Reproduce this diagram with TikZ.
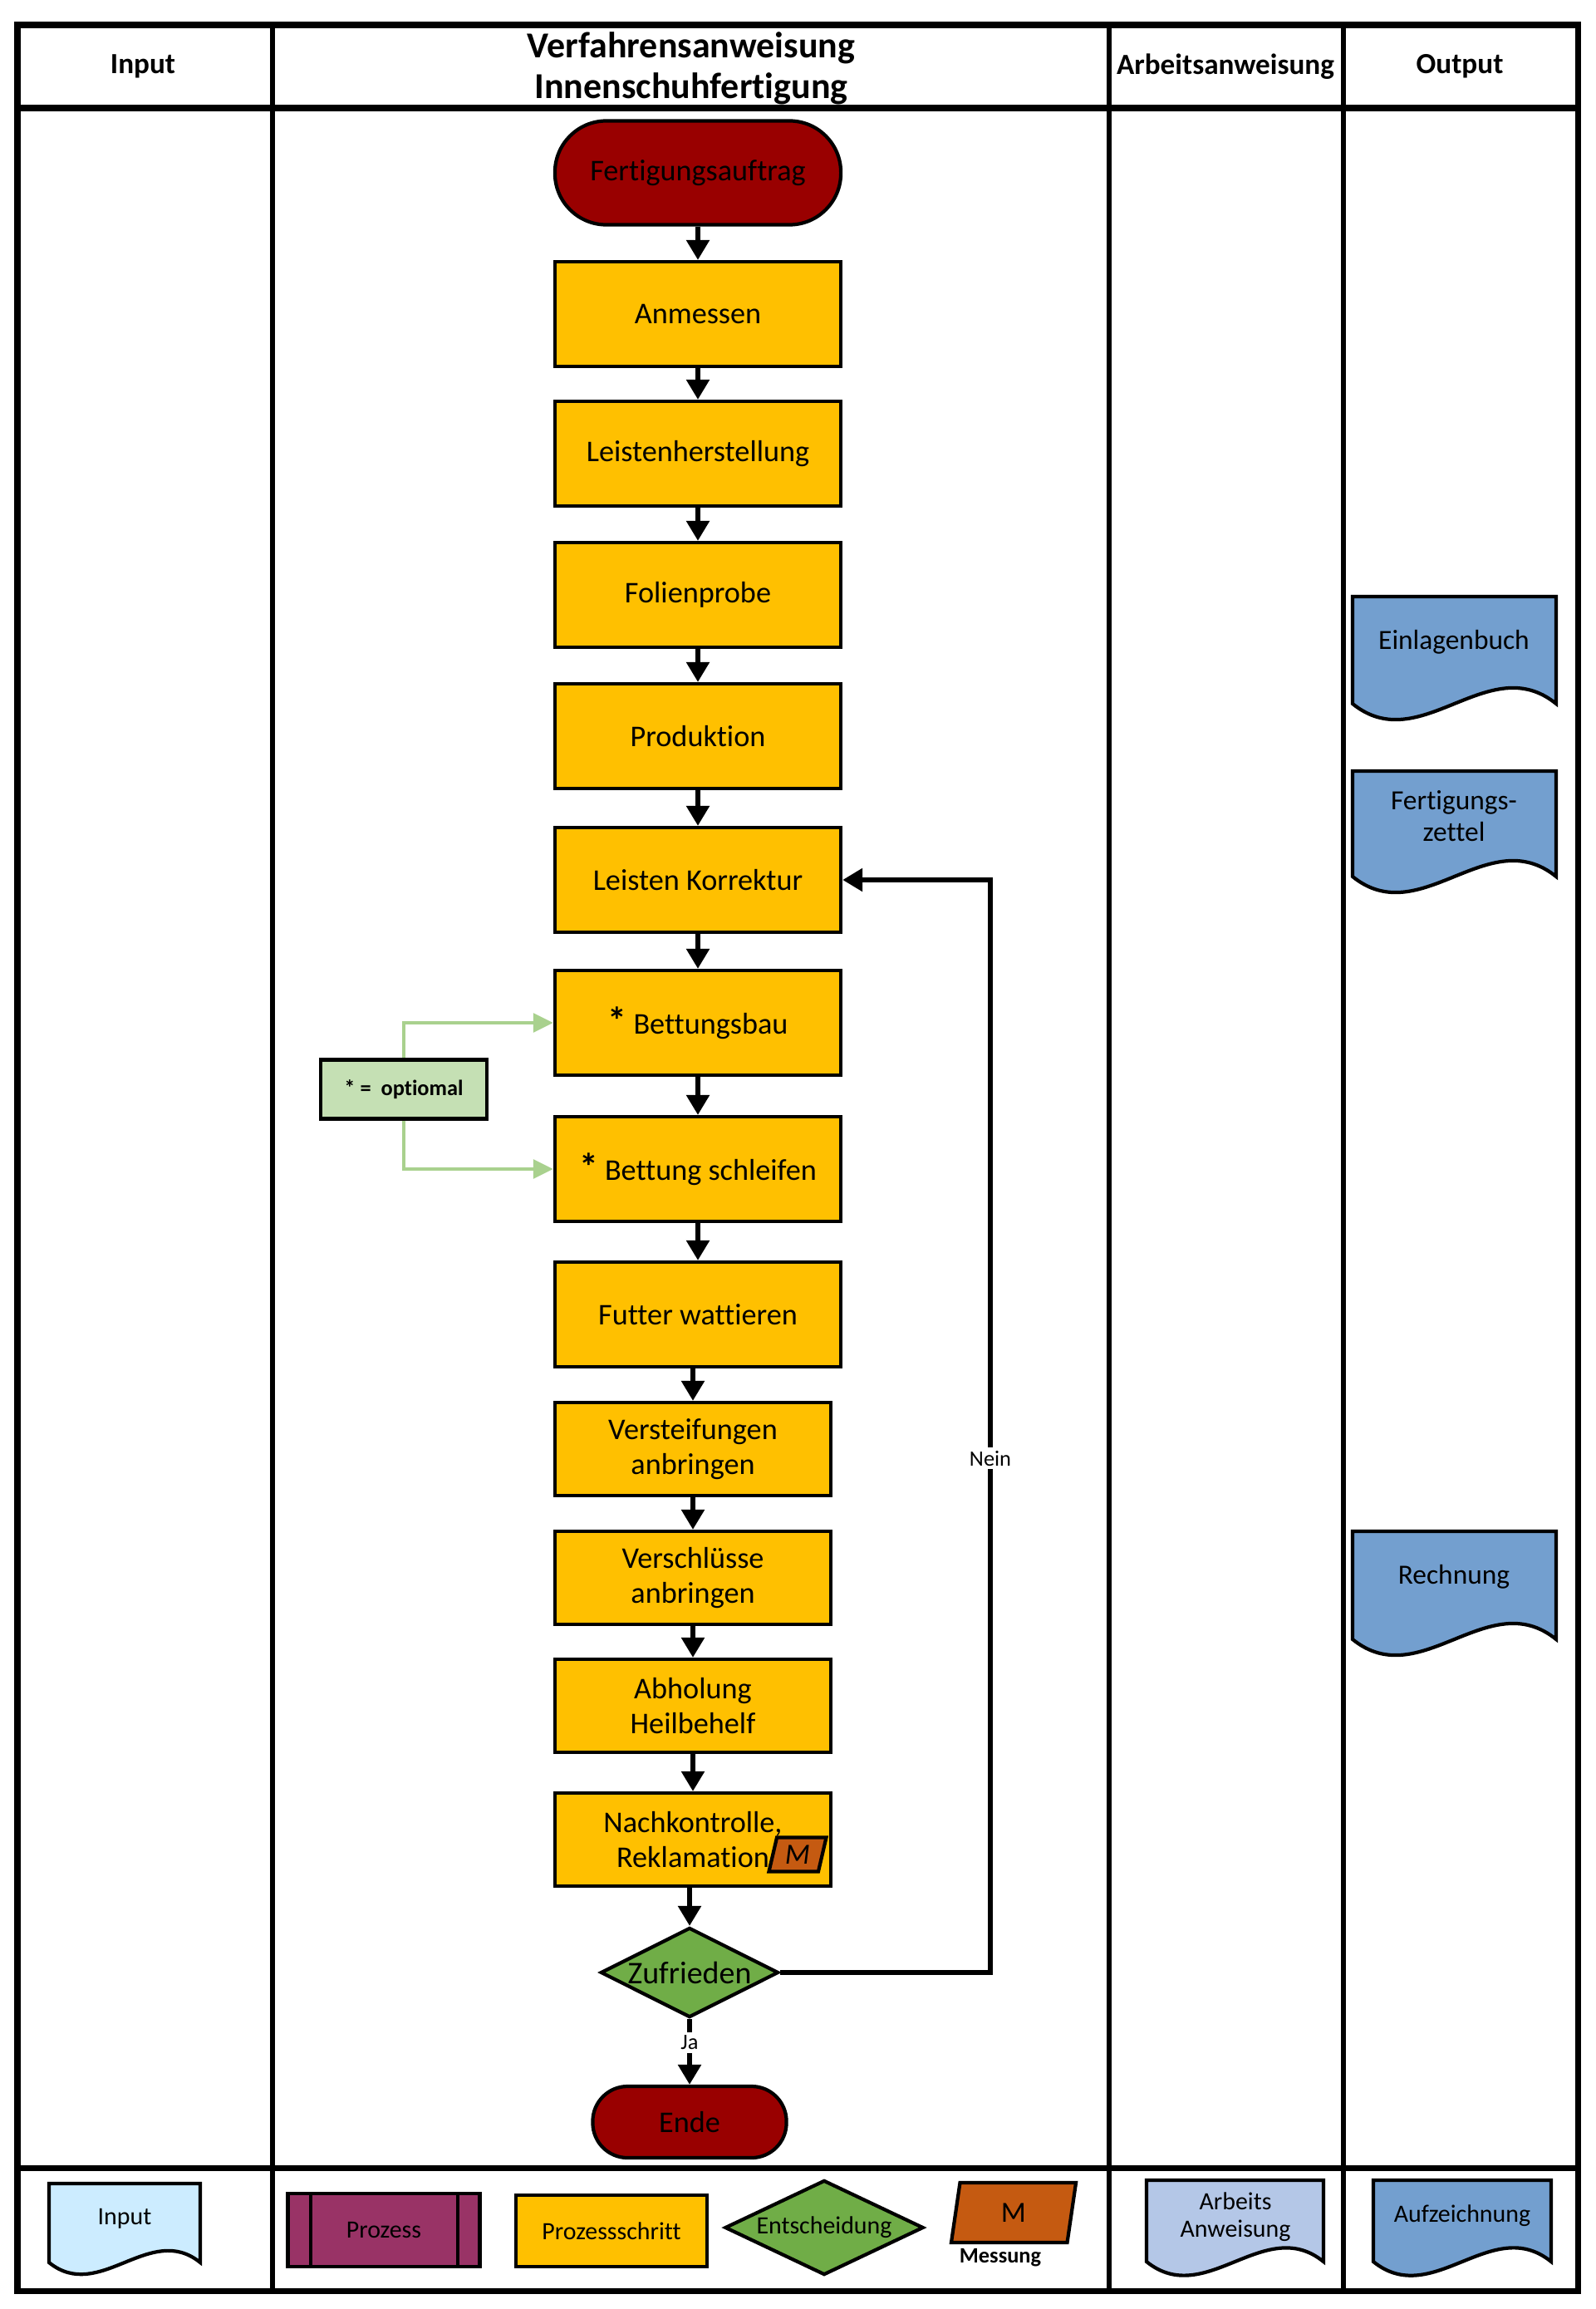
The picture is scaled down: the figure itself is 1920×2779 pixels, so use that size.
\documentclass[tikz,border=0pt]{standalone}
\usepackage{fontspec}
\setmainfont{Carlito}[Ligatures=NoCommon]
\usepackage{tikz}
\usetikzlibrary{calc,positioning,arrows.meta,shapes.geometric}
\definecolor{endrot}{HTML}{990000}
\definecolor{schrittgelb}{HTML}{FFC000}
\definecolor{entschgruen}{HTML}{70AD47}
\definecolor{optgruen}{HTML}{C5E0B4}
\definecolor{optlinie}{HTML}{A9D18E}
\definecolor{messorange}{HTML}{C55A11}
\definecolor{prozesslila}{HTML}{993366}
\definecolor{inputblau}{HTML}{CCECFF}
\definecolor{anwblau}{HTML}{B4C7E7}
\definecolor{aufzblau}{HTML}{739FCF}
\tikzstyle{rahmen}    = [line width=2pt]
\tikzstyle{spalte}    = [line width=1.6pt]
\tikzstyle{kopf}      = [font=\bfseries\fontsize{10}{12}\selectfont]
\tikzstyle{terminal}  = [rectangle, rounded corners=6.2mm, draw=black, line width=1.2pt, fill=endrot, minimum width=3.44cm, minimum height=1.25cm, font=\fontsize{10.3}{12}\selectfont]
\tikzstyle{schritt}   = [rectangle, draw=black, line width=1.2pt, fill=schrittgelb, minimum width=3.44cm, minimum height=1.26cm, align=center, font=\fontsize{10.3}{12}\selectfont]
\tikzstyle{schrittk}  = [schritt, minimum width=3.32cm, minimum height=1.12cm]
\tikzstyle{entsch}    = [diamond, draw=black, line width=1.2pt, fill=entschgruen, inner sep=0pt, minimum width=2.14cm, minimum height=1.08cm, font=\fontsize{10.8}{12}\selectfont]
\tikzstyle{mess}      = [trapezium, trapezium left angle=67, trapezium right angle=113, trapezium stretches body=true, draw=black, line width=1.2pt, fill=messorange, inner sep=0pt, minimum width=0.69cm, minimum height=0.41cm, font=\itshape\fontsize{10}{12}\selectfont]
\tikzstyle{optbox}    = [rectangle, draw=black, line width=1.2pt, fill=optgruen, minimum width=2cm, minimum height=0.71cm, font=\bfseries\fontsize{7.5}{9}\selectfont]
\tikzstyle{doktext}   = [align=center, font=\fontsize{9.5}{11}\selectfont]
\tikzstyle{legtext}   = [align=center, font=\fontsize{8.5}{9.4}\selectfont]
\tikzstyle{klein}     = [fill=white, inner sep=1pt, font=\fontsize{7.5}{9}\selectfont]
\tikzstyle{pfeil}     = [line width=1.6pt, -{Triangle[width=2.7mm,length=2.4mm]}]
\tikzstyle{optpfeil}  = [line width=0.9pt, draw=optlinie, -{Triangle[width=2.3mm,length=2.4mm,fill=optlinie]}]
\newcommand{\welle}[5]{%
  \draw[line width=1.2pt, fill=#5] (#1,#2) -- (#3,#2) -- (#3,#4)
    .. controls ({#3-(#3-#1)/3},{#4-0.27*(#3-#1)}) and ({#1+(#3-#1)/3},{#4+0.27*(#3-#1)}) .. (#1,#4) -- cycle;}
\newcommand{\stern}{{\bfseries\fontsize{13}{12}\selectfont *}}
\begin{document}
\begin{tikzpicture}[x=0.01cm, y=-0.01cm]
	\useasboundingbox (0,0) rectangle (1920,2779);

	\draw[rahmen] (21,30) rectangle (1899,2757);
	\draw[rahmen] (21,130) -- (1899,130);
	\draw[rahmen] (21,2609) -- (1899,2609);
	\draw[spalte] (328,30) -- (328,2757);
	\draw[spalte] (1335,30) -- (1335,2757);
	\draw[spalte] (1617,30) -- (1617,2757);

	\node[kopf] (hinput) at (172,80) {Input};
	\node[kopf, align=center, font=\bfseries\fontsize{12.5}{14}\selectfont] (hverf) at (832,82) {Verfahrensanweisung\\Innenschuhfertigung};
	\node[kopf] (harbeit) at (1475,80) {Arbeitsanweisung};
	\node[kopf] (houtput) at (1757,80) {Output};

	\node[terminal] (start) at (840,208) {Fertigungsauftrag};
	\node[schritt] (anmessen) at (840,378) {Anmessen};
	\node[schritt] (leisten) at (840,546) {Leistenherstellung};
	\node[schritt] (folien) at (840,716) {Folienprobe};
	\node[schritt] (produktion) at (840,886) {Produktion};
	\node[schritt] (korrektur) at (840,1059) {Leisten Korrektur};
	\node[schritt] (bettbau) at (840,1231) {\stern{} Bettungsbau};
	\node[schritt] (bettschl) at (840,1407) {\stern{} Bettung schleifen};
	\node[schritt] (futter) at (840,1582) {Futter wattieren};
	\node[schrittk] (versteif) at (834,1744) {Versteifungen\\anbringen};
	\node[schrittk] (verschl) at (834,1899) {Verschlüsse\\anbringen};
	\node[schrittk] (abholung) at (834,2053) {Abholung\\Heilbehelf};
	\node[schrittk] (nachkontr) at (834,2214) {Nachkontrolle,\\Reklamation};
	\node[mess] (messung) at (960,2232) {M};
	\node[entsch] (zufrieden) at (830,2374) {\makebox[0pt]{Zufrieden}};
	\node[terminal, minimum width=2.33cm, minimum height=0.86cm, rounded corners=4.2mm] (ende) at (830,2554) {Ende};
	\node[optbox] (optional) at (486,1311) {* = \ optiomal};
	\coordinate (nein) at (1192,1059);

	\draw[pfeil] (start) -- (anmessen);
	\draw[pfeil] (anmessen) -- (leisten);
	\draw[pfeil] (leisten) -- (folien);
	\draw[pfeil] (folien) -- (produktion);
	\draw[pfeil] (produktion) -- (korrektur);
	\draw[pfeil] (korrektur) -- (bettbau);
	\draw[pfeil] (bettbau) -- (bettschl);
	\draw[pfeil] (bettschl) -- (futter);
	\draw[pfeil] (futter.south -| versteif) -- (versteif);
	\draw[pfeil] (versteif) -- (verschl);
	\draw[pfeil] (verschl) -- (abholung);
	\draw[pfeil] (abholung) -- (nachkontr);
	\draw[pfeil] (nachkontr.south -| zufrieden) -- (zufrieden);
	\draw[pfeil] (zufrieden) -- node[klein, pos=0.36] (ja) {Ja} (ende);
	\draw[pfeil] (zufrieden.east) -| (nein) -- (korrektur.east);
	\node[klein] (neintext) at (1192,1755) {Nein};
	\draw[optpfeil] (optional.north) |- (bettbau.west);
	\draw[optpfeil] (optional.south) |- (bettschl.west);

	\welle{1628}{718}{1873}{847}{aufzblau}
	\node[doktext] (einlagen) at (1750,773) {Einlagenbuch};
	\welle{1628}{928}{1873}{1055}{aufzblau}
	\node[doktext] (fzettel) at (1750,982) {Fertigungs-\\zettel};
	\welle{1628}{1843}{1873}{1973}{aufzblau}
	\node[doktext] (rechnung) at (1750,1898) {Rechnung};

	\welle{59}{2628}{241}{2723}{inputblau}
	\node[legtext] (lginput) at (150,2670) {Input};
	\node[rectangle, draw=black, line width=1.2pt, fill=prozesslila, minimum width=2.31cm, minimum height=0.88cm, legtext] (lgprozess) at (462,2684) {Prozess};
	\draw[line width=1.2pt] ($(lgprozess.north west)+(30,0)$) -- ($(lgprozess.south west)+(30,0)$);
	\draw[line width=1.2pt] ($(lgprozess.north east)+(-29,0)$) -- ($(lgprozess.south east)+(-29,0)$);
	\node[schritt, minimum width=2.3cm, minimum height=0.86cm, legtext] (lgschritt) at (736,2685) {Prozessschritt};
	\node[entsch, minimum width=2.39cm, minimum height=1.14cm, legtext] (lgentsch) at (992,2681) {\makebox[0pt]{Entscheidung}};
	\node[mess, trapezium left angle=65, trapezium right angle=115, minimum width=1.5cm, minimum height=0.72cm, font=\fontsize{10}{12}\selectfont] (lgmess) at (1220,2663) {M};
	\node[font=\bfseries\fontsize{7.5}{9}\selectfont] (lgmesstext) at (1204,2717) {Messung};
	\welle{1380}{2624}{1593}{2722}{anwblau}
	\node[legtext] (lganw) at (1487,2668) {Arbeits\\Anweisung};
	\welle{1653}{2624}{1867}{2722}{aufzblau}
	\node[legtext] (lgaufz) at (1760,2667) {Aufzeichnung};
\end{tikzpicture}
\end{document}
